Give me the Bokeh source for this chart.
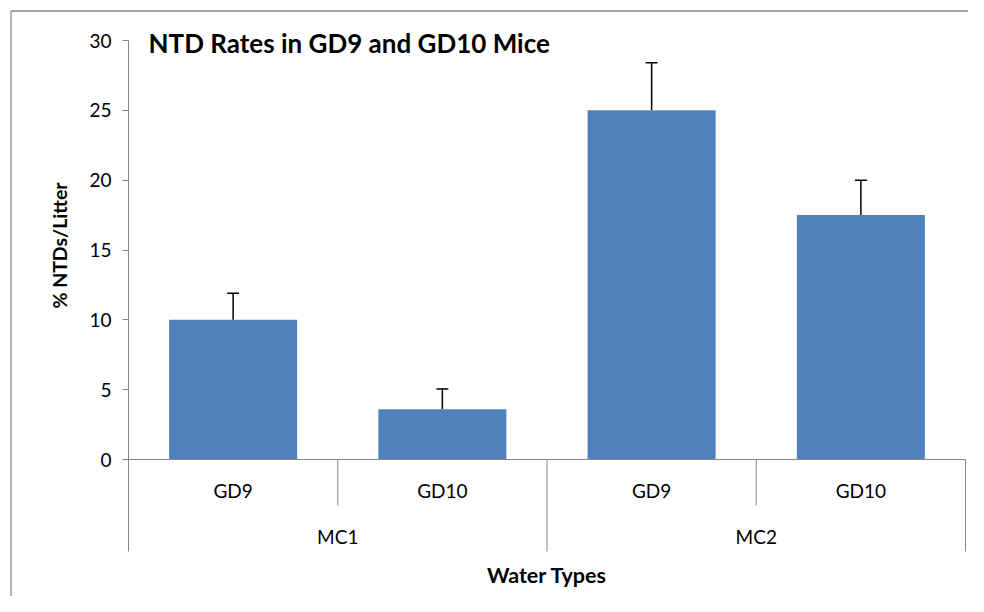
import math
from bokeh.plotting import figure
from bokeh.models import Range1d, LinearAxis, FixedTicker, Whisker, ColumnDataSource, TeeHead
from bokeh.core.properties import value
from bokeh.embed import file_html
from bokeh.resources import INLINE

# ---------------- data ----------------
groups = ["MC1", "MC1", "MC2", "MC2"]
days = ["GD9", "GD10", "GD9", "GD10"]
rates = [10.0, 3.6, 25.0, 17.5]
errors = [1.9, 1.45, 3.4, 2.5]
y_ticks = [0, 5, 10, 15, 20, 25, 30]

title_text = "NTD Rates in GD9 and GD10 Mice"
x_title = "Water Types"
y_title = "% NTDs/Litter"

# ---------------- layout (canvas pixels) ----------------
W, H = 968, 596
X0_PX, X1_PX = 128, 965      # x = 0 and x = number of bars
Y0_PX, YT_PX = 459, 40       # y = 0 and y = top tick
n = len(days)
ytop = y_ticks[-1]
ux = (X1_PX - X0_PX) / n
uy = (Y0_PX - YT_PX) / ytop


def dx(px):
    return (px - X0_PX) / ux


def dy(py):
    return (Y0_PX - py) / uy


FONT = "Lato"
AXIS_GRAY = "#868686"

p = figure(width=W, height=H, output_backend="svg", toolbar_location=None,
           x_range=Range1d(dx(0), dx(W)), y_range=Range1d(dy(H), dy(0)),
           x_axis_type=None, y_axis_type=None, min_border=0,
           outline_line_color=None, background_fill_color="white",
           border_fill_color="white")

# chart border (left & top visible)
p.segment(x0=[dx(10.5), dx(10.5)], y0=[dy(10.5), dy(10.5)],
          x1=[dx(10.5), dx(W + 10)], y1=[dy(H + 10), dy(10.5)],
          line_color="#8a8a8a", line_width=1.3)

# bars
bar_x = [i + 0.5 for i in range(n)]
p.vbar(x=bar_x, top=rates, bottom=0, width=128 / ux,
       fill_color="#4F81BD", line_color=None)

# error bars (upper only)
src = ColumnDataSource(dict(x=bar_x, lower=rates,
                            upper=[r + e for r, e in zip(rates, errors)]))
p.add_layout(Whisker(source=src, base="x", lower="lower", upper="upper",
                     dimension="height", lower_head=None,
                     upper_head=TeeHead(size=12, line_color="black", line_width=1.5),
                     line_color="black", line_width=1.5))

# y axis
short_end = dy(505)
long_end = dy(551)
yaxis = LinearAxis(fixed_location=0, bounds=(long_end, ytop),
                   ticker=FixedTicker(ticks=y_ticks, minor_ticks=[]),
                   axis_line_color=AXIS_GRAY, axis_line_width=1,
                   major_tick_line_color=AXIS_GRAY, major_tick_out=6, major_tick_in=0,
                   minor_tick_line_color=None,
                   major_label_text_font=FONT, major_label_text_font_size="19px",
                   major_label_text_color="black", major_label_standoff=11)
p.add_layout(yaxis, "left")

# category axis line and separators
p.segment(x0=[0], y0=[0], x1=[n], y1=[0], line_color=AXIS_GRAY, line_width=1)
sx, sy0, sy1 = [], [], []
for i in range(1, n + 1):
    is_group_edge = (i == n) or (groups[i - 1] != groups[i])
    sx.append(i)
    sy0.append(0)
    sy1.append(long_end if is_group_edge else short_end)
p.segment(x0=sx, y0=sy0, x1=sx, y1=sy1, line_color=AXIS_GRAY, line_width=1)

# sub-category labels
p.text(x=bar_x, y=[dy(490)] * n, text=days, text_font=value(FONT),
       text_font_size="19px", text_color="black",
       text_align="center", text_baseline="middle")

# group labels
gnames, gx = [], []
for g in dict.fromkeys(groups):
    idx = [i for i, v in enumerate(groups) if v == g]
    gnames.append(g)
    gx.append((idx[0] + idx[-1] + 1) / 2)
p.text(x=gx, y=[dy(536)] * len(gx), text=gnames, text_font=value(FONT),
       text_font_size="19px", text_color="black",
       text_align="center", text_baseline="middle")

# axis titles
p.text(x=[n / 2], y=[dy(574)], text=[x_title], text_font=value(FONT),
       text_font_size="21.5px", text_font_style="bold", text_color="black",
       text_align="center", text_baseline="middle")
p.text(x=[dx(59)], y=[dy(245)], text=[y_title], text_font=value(FONT),
       text_font_size="19.5px", text_font_style="bold", text_color="black",
       angle=math.pi / 2, text_align="center", text_baseline="middle")

# chart title
p.text(x=[dx(148)], y=[dy(42)], text=[title_text], text_font=value(FONT),
       text_font_size="26px", text_font_style="bold", text_color="black",
       text_align="left", text_baseline="middle")

open("out.html", "w").write(file_html(p, INLINE))
